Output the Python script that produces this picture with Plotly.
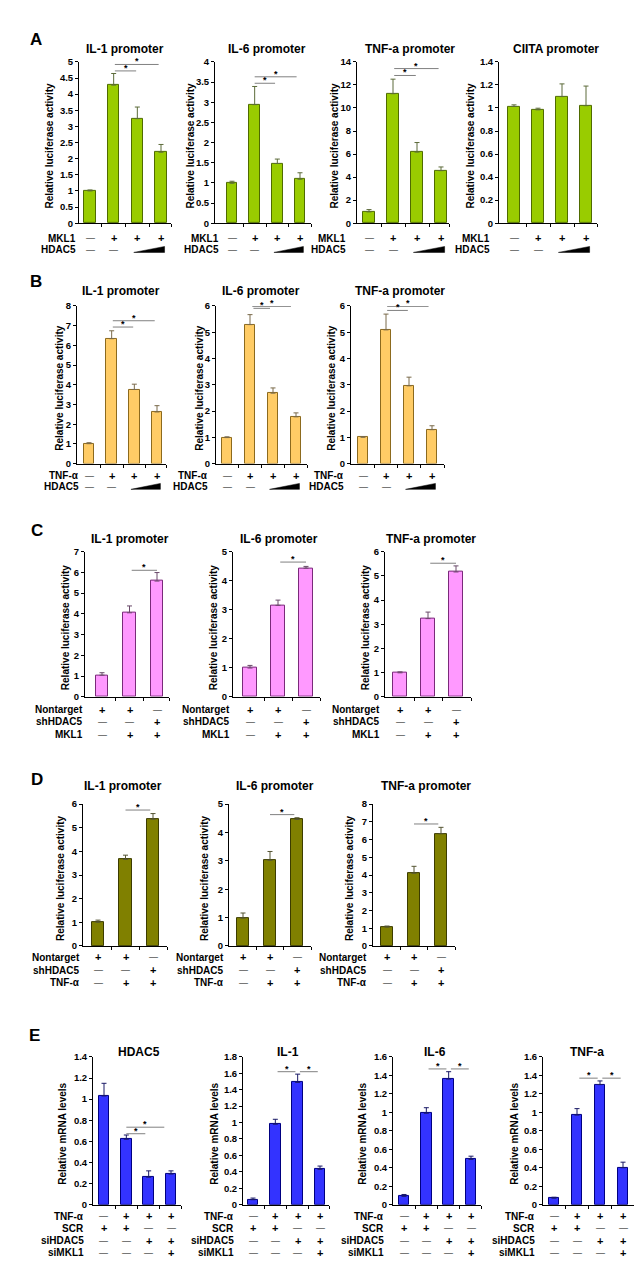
import plotly.graph_objects as go

W, H = 642, 1275
FONT = "Liberation Sans, Arial, sans-serif"

# ---------------- data ----------------
# Panel A (MKL1 +/- HDAC5)
A_IL1 = [1.00, 4.28, 3.24, 2.20]
A_IL1_ERR = [0.03, 0.36, 0.36, 0.24]
A_IL6 = [0.99, 2.94, 1.48, 1.09]
A_IL6_ERR = [0.05, 0.45, 0.11, 0.16]
A_TNF = [0.98, 11.24, 6.17, 4.56]
A_TNF_ERR = [0.20, 1.26, 0.83, 0.32]
A_CIITA = [1.013, 0.984, 1.099, 1.02]
A_CIITA_ERR = [0.014, 0.014, 0.11, 0.17]
A_MKL1 = ["-", "+", "+", "+"]
A_HDAC5 = ["-", "-", "ramp", "ramp"]

# Panel B (TNF-alpha +/- HDAC5)
B_IL1 = [1.01, 6.34, 3.76, 2.62]
B_IL1_ERR = [0.05, 0.40, 0.27, 0.32]
B_IL6 = [0.99, 5.29, 2.68, 1.78]
B_IL6_ERR = [0.03, 0.38, 0.20, 0.15]
B_TNF = [1.00, 5.09, 2.96, 1.29]
B_TNF_ERR = [0.03, 0.60, 0.33, 0.15]
B_TNFA = ["-", "+", "+", "+"]
B_HDAC5 = ["-", "-", "ramp", "ramp"]

# Panel C (shHDAC5, MKL1)
C_IL1 = [1.04, 4.05, 5.58]
C_IL1_ERR = [0.12, 0.33, 0.41]
C_IL6 = [0.99, 3.15, 4.43]
C_IL6_ERR = [0.09, 0.18, 0.06]
C_TNF = [0.99, 3.23, 5.16]
C_TNF_ERR = [0.04, 0.27, 0.25]
C_NONTARGET = ["+", "+", "-"]
C_SHHDAC5 = ["-", "-", "+"]
C_MKL1 = ["-", "+", "+"]

# Panel D (shHDAC5, TNF-alpha)
D_IL1 = [1.00, 3.66, 5.36]
D_IL1_ERR = [0.09, 0.18, 0.24]
D_IL6 = [0.98, 3.02, 4.46]
D_IL6_ERR = [0.18, 0.31, 0.06]
D_TNF = [1.06, 4.10, 6.33]
D_TNF_ERR = [0.06, 0.39, 0.36]
D_NONTARGET = ["+", "+", "-"]
D_SHHDAC5 = ["-", "-", "+"]
D_TNFA = ["-", "+", "+"]

# Panel E (mRNA levels)
E_HDAC5 = [1.03, 0.62, 0.26, 0.29]
E_HDAC5_ERR = [0.12, 0.04, 0.06, 0.03]
E_IL1 = [0.06, 0.98, 1.49, 0.43]
E_IL1_ERR = [0.02, 0.06, 0.10, 0.04]
E_IL6 = [0.09, 0.99, 1.36, 0.49]
E_IL6_ERR = [0.02, 0.06, 0.08, 0.035]
E_TNF = [0.07, 0.97, 1.30, 0.40]
E_TNF_ERR = [0.01, 0.07, 0.04, 0.06]
E_TNFA = ["-", "+", "+", "+"]
E_SCR = ["+", "+", "-", "-"]
E_SIHDAC5 = ["-", "-", "+", "+"]
E_SIMKL1 = ["-", "-", "-", "+"]

LUC = "Relative luciferase activity"
MRNA = "Relative mRNA levels"

# ---------------- layout description ----------------
panels = [
    dict(letter="A", letter_xy=(27.5, 26), ytop=48.3, ybot=211, title_y=35, ytitle=LUC,
         fill="#99CC00", line="#4F6B00", err="#5C6B3A",
         rows=[("MKL1", A_MKL1, 226), ("HDAC5", A_HDAC5, 238)],
         plots=[
             dict(title="IL-1 promoter", v=A_IL1, e=A_IL1_ERR, ymax=5, dt=0.5, geo=(71, 163, 82, 153),
                  tx=117, ytx=42, lx=69, sig=[(1.05, 1.95, 4.72), (1.05, 2.9, 4.92)]),
             dict(title="IL-6 promoter", v=A_IL6, e=A_IL6_ERR, ymax=4, dt=0.5, geo=(207, 303, 224, 292),
                  tx=259, ytx=183, lx=212, sig=[(1.0, 1.9, 3.47), (1.0, 2.85, 3.63)]),
             dict(title="TNF-a promoter", v=A_TNF, e=A_TNF_ERR, ymax=14, dt=2, geo=(349, 441, 361, 433),
                  tx=402, ytx=327, lx=339, sig=[(1.05, 1.95, 12.82), (1.05, 2.9, 13.42)]),
             dict(title="CIITA promoter", v=A_CIITA, e=A_CIITA_ERR, ymax=1.4, dt=0.2, geo=(491, 589, 506, 578),
                  tx=548, ytx=463, lx=483, sig=[]),
         ]),
    dict(letter="B", letter_xy=(27.5, 270), ytop=294.5, ybot=453.5, title_y=279.5, ytitle=LUC,
         fill="#FFCC66", line="#8C6A1E", err="#7A6A4A",
         rows=[("TNF-\u03b1", B_TNFA, 466), ("HDAC5", B_HDAC5, 477)],
         plots=[
             dict(title="IL-1 promoter", v=B_IL1, e=B_IL1_ERR, ymax=8, dt=1, geo=(69, 158, 81, 149),
                  tx=113, ytx=52, lx=72, sig=[(1.05, 1.95, 6.93), (1.05, 2.9, 7.25)]),
             dict(title="IL-6 promoter", v=B_IL6, e=B_IL6_ERR, ymax=6, dt=1, geo=(208, 299, 219, 288),
                  tx=253, ytx=192, lx=201, sig=[(1.15, 1.87, 5.91), (1.1, 2.78, 5.985)]),
             dict(title="TNF-a promoter", v=B_TNF, e=B_TNF_ERR, ymax=6, dt=1, geo=(343, 436, 355, 424),
                  tx=392, ytx=324, lx=337, sig=[(1.05, 1.95, 5.83), (1.05, 2.85, 5.985)]),
         ]),
    dict(letter="C", letter_xy=(29, 521), ytop=542.3, ybot=688.7, title_y=530, ytitle=LUC,
         fill="#FF99FF", line="#7A2A7A", err="#6A4A6A",
         rows=[("Nontarget", C_NONTARGET, 701.7), ("shHDAC5", C_SHHDAC5, 714), ("MKL1", C_MKL1, 727)],
         plots=[
             dict(title="IL-1 promoter", v=C_IL1, e=C_IL1_ERR, ymax=7, dt=1, geo=(77, 161, 94, 149),
                  tx=122, ytx=57, lx=76, sig=[(1.08, 2.0, 6.1)]),
             dict(title="IL-6 promoter", v=C_IL6, e=C_IL6_ERR, ymax=5, dt=1, geo=(225, 312, 242, 298),
                  tx=271, ytx=205, lx=223, sig=[(1.08, 2.0, 4.64)]),
             dict(title="TNF-a promoter", v=C_TNF, e=C_TNF_ERR, ymax=6, dt=1, geo=(377, 463, 392, 448),
                  tx=423, ytx=357, lx=373, sig=[(1.08, 2.0, 5.52)]),
         ]),
    dict(letter="D", letter_xy=(29, 772), ytop=797, ybot=940, title_y=779, ytitle=LUC,
         fill="#808000", line="#3C3C00", err="#555533",
         rows=[("Nontarget", D_NONTARGET, 951.7), ("shHDAC5", D_SHHDAC5, 964.5), ("TNF-\u03b1", D_TNFA, 977)],
         plots=[
             dict(title="IL-1 promoter", v=D_IL1, e=D_IL1_ERR, ymax=6, dt=1, geo=(75, 159, 90, 145),
                  tx=115, ytx=53, lx=73, sig=[(1.0, 1.9, 5.75)]),
             dict(title="IL-6 promoter", v=D_IL6, e=D_IL6_ERR, ymax=5, dt=1, geo=(221, 303, 235, 289),
                  tx=267, ytx=197, lx=217, sig=[(1.0, 1.9, 4.63)]),
             dict(title="TNF-a promoter", v=D_TNF, e=D_TNF_ERR, ymax=8, dt=1, geo=(365, 447, 379, 433),
                  tx=418, ytx=342, lx=360, sig=[(1.0, 1.9, 6.88)]),
         ]),
    dict(letter="E", letter_xy=(26, 1030), ytop=1052, ybot=1201, title_y=1047, ytitle=MRNA,
         fill="#3333FF", line="#000080", err="#1A1A66",
         rows=[("TNF-\u03b1", E_TNFA, 1212.7), ("SCR", E_SCR, 1225), ("siHDAC5", E_SIHDAC5, 1237.3),
               ("siMKL1", E_SIMKL1, 1249.3)],
         plots=[
             dict(title="HDAC5", v=E_HDAC5, e=E_HDAC5_ERR, ymax=1.4, dt=0.2, geo=(85, 173, 96, 163),
                  tx=131, ytx=55, lx=77, sig=[(1.0, 1.85, 0.672), (1.0, 2.7, 0.734)]),
             dict(title="IL-1", v=E_IL1, e=E_IL1_ERR, ymax=1.8, dt=0.2, geo=(235, 321, 245, 312),
                  tx=280, ytx=207, lx=227, sig=[(1.1, 1.9, 1.62), (2.1, 2.9, 1.62)]),
             dict(title="IL-6", v=E_IL6, e=E_IL6_ERR, ymax=1.6, dt=0.2, geo=(385, 473, 396, 463),
                  tx=427, ytx=355, lx=377, sig=[(1.1, 1.9, 1.47), (2.1, 2.9, 1.47)]),
             dict(title="TNF-a", v=E_TNF, e=E_TNF_ERR, ymax=1.6, dt=0.2, geo=(535, 627, 546, 615),
                  tx=579, ytx=507, lx=528, sig=[(1.1, 1.9, 1.37), (2.1, 2.9, 1.37)]),
         ]),
]


def px(x):
    return x / W


def py(y):
    return 1 - y / H


fig = go.Figure()
layout = dict(width=W, height=H, margin=dict(l=0, r=0, t=0, b=0),
              paper_bgcolor="white", plot_bgcolor="white", showlegend=False,
              font=dict(family=FONT, color="black"), bargap=0)
annotations = []
shapes = []

k = 0
for P in panels:
    annotations.append(dict(text="<b>%s</b>" % P["letter"], x=px(P["letter_xy"][0]), y=py(P["letter_xy"][1]),
                            xref="paper", yref="paper", showarrow=False, xanchor="center", yanchor="middle",
                            font=dict(size=17, family=FONT)))
    for S in P["plots"]:
        k += 1
        xa = "xaxis" if k == 1 else "xaxis%d" % k
        ya = "yaxis" if k == 1 else "yaxis%d" % k
        xr = "x" if k == 1 else "x%d" % k
        yr = "y" if k == 1 else "y%d" % k
        n = len(S["v"])
        ax0, ax1, b0, bn = S["geo"]
        step = (bn - b0) / (n - 1)
        r0 = (ax0 - b0) / step
        r1 = (n - 1) + (ax1 - bn) / step
        xs = list(range(n))
        fig.add_trace(go.Bar(
            x=xs, y=S["v"], xaxis=xr, yaxis=yr, width=0.47,
            marker=dict(color=P["fill"], line=dict(color=P["line"], width=1)),
            error_y=dict(type="data", symmetric=False, array=S["e"], arrayminus=[0] * n,
                         color=P["err"], thickness=1, width=2.5),
            hoverinfo="skip"))
        layout[xa] = dict(domain=[px(ax0), px(ax1)], range=[r0, r1], anchor=yr,
                          showline=True, linecolor="black", linewidth=1, mirror=False,
                          showgrid=False, zeroline=False, showticklabels=False,
                          ticks="outside", ticklen=3, tickcolor="black", tickwidth=1,
                          tickvals=[i + 0.5 for i in range(n - 1)] + [r1])
        nt = int(round(S["ymax"] / S["dt"]))
        tv = [round(i * S["dt"], 4) for i in range(nt + 1)]
        layout[ya] = dict(domain=[py(P["ybot"]), py(P["ytop"])], range=[0, S["ymax"]], anchor=xr,
                          showline=True, linecolor="black", linewidth=1,
                          showgrid=False, zeroline=False,
                          ticks="outside", ticklen=3, tickcolor="black", tickwidth=1,
                          tickvals=tv, ticktext=["<b>%g</b>" % t for t in tv],
                          tickfont=dict(size=9.5, family=FONT))
        # title
        annotations.append(dict(text="<b>%s</b>" % S["title"], x=px(S["tx"]), y=py(P["title_y"]),
                                xref="paper", yref="paper", showarrow=False, xanchor="center",
                                yanchor="middle", font=dict(size=12, family=FONT)))
        # y-axis title
        annotations.append(dict(text="<b>%s</b>" % P["ytitle"], x=px(S["ytx"]),
                                y=py((P["ytop"] + P["ybot"]) / 2 + 3),
                                xref="paper", yref="paper", showarrow=False, textangle=-90,
                                xanchor="center", yanchor="middle", font=dict(size=10, family=FONT)))
        # significance
        for (a, b, yv) in S["sig"]:
            shapes.append(dict(type="line", xref=xr, yref=yr, x0=a, x1=b, y0=yv, y1=yv,
                               line=dict(color="#808080", width=1)))
            annotations.append(dict(text="<b>*</b>", x=(a + b) / 2, y=yv, xref=xr, yref=yr, showarrow=False,
                                    xanchor="center", yanchor="middle", yshift=3, borderpad=0,
                                    font=dict(size=9, family=FONT)))
        # condition rows
        for (lab, syms, ry) in P["rows"]:
            annotations.append(dict(text="<b>%s</b>" % lab, x=px(S["lx"]), y=py(ry), xref="paper",
                                    yref="paper", showarrow=False, xanchor="right", yanchor="middle",
                                    borderpad=0, font=dict(size=10, family=FONT)))
            ramp = [i for i, s in enumerate(syms) if s == "ramp"]
            for i, s in enumerate(syms):
                if s == "ramp":
                    continue
                if s == "+":
                    annotations.append(dict(text="<b>+</b>", x=i, y=py(ry), xref=xr, yref="paper",
                                            showarrow=False, xanchor="center", yanchor="middle",
                                            borderpad=0, font=dict(size=11, family=FONT)))
                else:
                    annotations.append(dict(text="\u2014", x=i, y=py(ry), xref=xr, yref="paper",
                                            showarrow=False, xanchor="center", yanchor="middle",
                                            borderpad=0, font=dict(size=9, family=FONT)))
            if ramp:
                a, b = ramp[0] - 0.15, ramp[-1] + 0.15
                yb, yt = py(ry + 2.5), py(ry - 3.5)
                shapes.append(dict(type="path", xref=xr, yref="paper",
                                   path="M %f,%f L %f,%f L %f,%f Z" % (a, yb, b, yb, b, yt),
                                   fillcolor="black", line=dict(color="black", width=0.5)))

layout["annotations"] = annotations
layout["shapes"] = shapes
fig.update_layout(**layout)
fig.write_html("out.html")
